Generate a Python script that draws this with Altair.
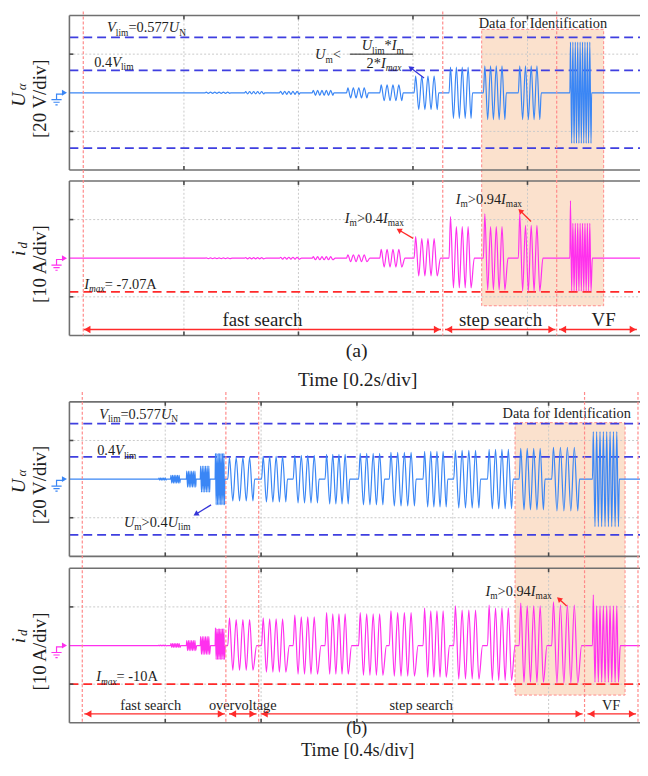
import math
import altair as alt
import pandas as pd

FONT = "Liberation Serif"
TEXT = "#1e1e1e"
BLUE_WAVE = "#3a86f5"
BLUE_DASH = "#3f3fe0"
BLUE_ARROW = "#3535d8"
MAG = "#ff30ee"
RED = "#ff2a2a"
PINK = "#ff8a8a"
BOX_FILL = "#fbe1cd"
GRID = "#c9c9c9"
BORDER = "#707070"

W = 576          # panel width (px)
H = 156          # panel height (px)
PLOT_H = 752     # whole drawing height below the top padding

# panel tops inside the drawing (px)
A_UA_TOP, A_ID_TOP, CAP_TOP, B_UA_TOP, B_ID_TOP = 0, 167, 323, 390, 558

# ---------------- data: part (a), time in s (0.2 s/div) ----------------
A_T_MAX = 0.9965
A_XGRID = [0.2, 0.4, 0.6, 0.8]
A_BURST_START = [0.237, 0.306, 0.367, 0.424, 0.484, 0.542, 0.602, 0.663, 0.723, 0.784, 0.874]
A_BURST_END = [0.282, 0.341, 0.403, 0.462, 0.522, 0.583, 0.645, 0.704, 0.763, 0.824, 0.912]
A_BURST_CYC = [6, 5, 5, 5, 4, 4, 4, 4, 4, 4, 9]
A_UA_AMP = [0.3, 0.6, 0.8, 1.3, 2.6, 4.1, 8.7, 13.3, 13.9, 13.9, 26.2]
A_ID_FIRST = [0.1, 0.15, 0.25, 0.4, 0.9, 2.3, 5.6, 10.8, 11.5, 11.5, 14.9]
A_ID_POS = [0.1, 0.15, 0.25, 0.4, 0.9, 2.3, 5.1, 8.2, 8.2, 8.5, 9.0]
A_ID_NEG = [-0.1, -0.15, -0.25, -0.4, -0.9, -2.3, -4.6, -7.7, -8.2, -8.5, -8.5]
A_UA_LIMITS = [28.7, 11.6, -28.7]
A_IMAX = [-8.7]
A_VLINES = [0.0242, 0.652, 0.851]
A_BOX = [0.720, 0.933]
A_PHASE_START = [0.0242, 0.656, 0.855]
A_PHASE_END = [0.649, 0.849, 0.991]
A_PHASE_TEXT = ["fast search", "step search", "VF"]
A_PHASE_MID = [0.337, 0.753, 0.933]

# ---------------- data: part (b), time in s (0.4 s/div) ----------------
B_T_MAX = 2.3814
B_XGRID = [0.4, 0.8, 1.2, 1.6, 2.0]
B_BURST_START = [0.372, 0.422, 0.488, 0.546, 0.608, 0.661, 0.802, 0.934, 1.067, 1.207,
                 1.335, 1.476, 1.604, 1.745, 1.877, 2.013, 2.183]
B_BURST_END = [0.405, 0.463, 0.529, 0.587, 0.649, 0.773, 0.910, 1.042, 1.170, 1.315,
               1.447, 1.579, 1.716, 1.852, 1.985, 2.129, 2.295]
B_BURST_CYC = [5, 6, 6, 6, 7, 4, 4, 4, 4, 4, 4, 4, 4, 4, 4, 4, 8]
B_UA_AMP = [0.5, 2.0, 4.1, 6.7, 13.3, 11.3, 11.8, 12.3, 12.8, 13.3, 13.9, 14.4, 14.9, 15.4,
            15.9, 16.4, 24.6]
B_ID_FIRST = [0.1, 0.5, 1.3, 2.3, 4.6, 7.2, 7.2, 7.9, 8.5, 8.5, 9.0, 9.7, 10.3, 10.5, 11.0,
              11.3, 13.1]
B_ID_POS = [0.1, 0.5, 1.3, 2.3, 4.3, 6.7, 6.9, 7.4, 8.2, 8.2, 8.5, 9.0, 9.2, 9.7, 10.3,
            10.5, 10.3]
B_ID_NEG = [-0.1, -0.5, -1.3, -2.3, -3.6, -6.4, -6.9, -7.4, -7.4, -7.7, -7.9, -8.2, -8.7,
            -9.0, -9.5, -9.7, -9.5]
B_UA_LIMITS = [28.7, 11.5, -28.9]
B_IMAX = [-10.0]
B_VLINES = [0.0537, 0.653, 0.790, 2.150, 2.373]
B_BOX = [1.860, 2.319]
B_PHASE_START = [0.062, 0.666, 0.798, 2.162]
B_PHASE_END = [0.649, 0.781, 2.142, 2.365]
B_PHASE_TEXT = ["fast search", "overvoltage", "step search", "VF"]
B_PHASE_MID = [0.339, 0.7235, 1.468, 2.261]

UA_YGRID = [-20, 20]
ID_YGRID = [-10, 10]
UA_DOMAIN = [-40, 40]
ID_DOMAIN = [-20, 20]

ONE = pd.DataFrame({"k": [0]})

RW = {' ': 250, '(': 333, ')': 333, '*': 500, '-': 333, '.': 250, '/': 278, '<': 564,
      '=': 564, '>': 564, 'A': 722, 'D': 722, 'F': 556, 'I': 333, 'N': 722, 'T': 611,
      'U': 722, 'V': 722, '[': 333, ']': 333, 'a': 444, 'c': 444, 'd': 500, 'e': 444,
      'f': 333, 'g': 500, 'h': 500, 'i': 278, 'l': 278, 'm': 778, 'n': 500, 'o': 500,
      'p': 500, 'r': 333, 's': 389, 't': 278, 'v': 500, 'x': 500}
IW = {'U': 722, 'V': 611, 'I': 333, 'm': 722, 'a': 500, 'x': 444, 'i': 278, 'l': 278,
      'd': 500, 'N': 667}


def tw(s, size, italic):
    tab = IW if italic else RW
    return sum(tab.get(c, 500) for c in s) / 1000.0 * size


def T(txt, x, y, size=14.5, italic=False, color=TEXT, align="left",
      baseline="alphabetic", angle=None):
    kw = dict(font=FONT, fontSize=size, fontStyle="italic" if italic else "normal",
              align=align, baseline=baseline, color=color)
    if angle is not None:
        kw["angle"] = angle
    return alt.Chart(ONE).mark_text(**kw).encode(
        x=alt.value(x), y=alt.value(y), text=alt.value(txt))


def rich(parts, x0, y0, base=14.5, sub=9.5, sdy=3.5, color=TEXT):
    out = []
    x = x0
    for txt, kind in parts:
        italic = "i" in kind
        is_sub = kind.startswith("s")
        fs = sub if is_sub else base
        out.append(T(txt, x, y0 + (sdy if is_sub else 0), fs, italic, color))
        x += tw(txt, fs, italic)
    return out


def pointer(x1, y1, x2, y2, color, size=38):
    L = math.hypot(x2 - x1, y2 - y1)
    ux, uy = (x2 - x1) / L, (y2 - y1) / L
    cx, cy = x2 - 3 * ux, y2 - 3 * uy
    ang = math.degrees(math.atan2(ux, -uy)) % 360
    line = alt.Chart(ONE).mark_rule(color=color, strokeWidth=1.3).encode(
        x=alt.value(x1), y=alt.value(y1), x2=alt.value(cx), y2=alt.value(cy))
    head = alt.Chart(ONE).mark_point(shape="triangle-up", filled=True, size=size,
                                     angle=ang, color=color, opacity=1).encode(
        x=alt.value(cx), y=alt.value(cy))
    return [line, head]


def ua_series(tmax, st, en, cyc, amp):
    t, v = [0.0], [0.0]
    for s, e, n, a in zip(st, en, cyc, amp):
        P = (e - s) / n
        t.append(s); v.append(0.0)
        for k in range(n):
            t += [s + (k + 0.25) * P, s + (k + 0.75) * P]
            v += [a, -a]
        t.append(e); v.append(0.0)
    t.append(tmax); v.append(0.0)
    return pd.DataFrame({"t": t, "v": v})


def id_series(tmax, st, en, cyc, first, pos, neg):
    t, v = [0.0], [0.0]
    for s, e, n, f, p, q in zip(st, en, cyc, first, pos, neg):
        P = (e - s) / n
        t.append(s); v.append(0.0)
        for k in range(n):
            t += [s + (k + 0.25) * P, s + (k + 0.75) * P]
            v += [f if k == 0 else p, q]
        t.append(e + 0.3 * P); v.append(0.0)
    t.append(tmax); v.append(0.0)
    return pd.DataFrame({"t": t, "v": v})


def xs(tmax):
    return alt.Scale(domain=[0, tmax], range=[0, W], nice=False, zero=False)


def ys(domain, top):
    return alt.Scale(domain=domain, range=[top + H, top], nice=False, zero=False)


def X(field, XS):
    return alt.X(field, type="quantitative", scale=XS, axis=None)


def Y(field, YS):
    return alt.Y(field, type="quantitative", scale=YS, axis=None)


def grid_layers(XS, YS, top, xgrid, ygrid):
    gx = alt.Chart(pd.DataFrame({"g": xgrid})).mark_rule(
        color=GRID, strokeWidth=1, strokeDash=[2, 2]).encode(
        x=X("g", XS), y=alt.value(top), y2=alt.value(top + H))
    gy = alt.Chart(pd.DataFrame({"g": ygrid})).mark_rule(
        color=GRID, strokeWidth=1, strokeDash=[2, 2]).encode(
        y=Y("g", YS), x=alt.value(0), x2=alt.value(W))
    return [gx, gy]


def frame_layers(XS, YS, top, xgrid, ygrid):
    out = []
    rs = dict(color=BORDER, strokeWidth=1.6)
    out.append(alt.Chart(ONE).mark_rule(**rs).encode(
        x=alt.value(0), x2=alt.value(W), y=alt.value(top)))
    out.append(alt.Chart(ONE).mark_rule(**rs).encode(
        x=alt.value(0), x2=alt.value(W), y=alt.value(top + H)))
    out.append(alt.Chart(ONE).mark_rule(**rs).encode(
        x=alt.value(0), y=alt.value(top), y2=alt.value(top + H)))
    ts = dict(color="#4a4a4a", strokeWidth=1.6)
    gdf = pd.DataFrame({"g": xgrid})
    out.append(alt.Chart(gdf).mark_rule(**ts).encode(
        x=X("g", XS), y=alt.value(top), y2=alt.value(top + 4)))
    out.append(alt.Chart(gdf).mark_rule(**ts).encode(
        x=X("g", XS), y=alt.value(top + H - 4), y2=alt.value(top + H)))
    out.append(alt.Chart(pd.DataFrame({"g": ygrid})).mark_rule(**ts).encode(
        y=Y("g", YS), x=alt.value(0), x2=alt.value(4)))
    return out


GROUND = "M1.1,-1 L0,-1 L0,0 M-0.9,0 L0.9,0 M-0.55,0.45 L0.55,0.45 M-0.2,0.9 L0.2,0.9"


def ylabel_layers(top, main, sub, unit, color, u_xy, s_xy):
    return [
        T(unit, -30, top + 84, 19, angle=270, align="center", baseline="middle"),
        T(main, u_xy[0], top + u_xy[1], 20, italic=True, angle=270, align="center",
          baseline="middle"),
        T(sub, s_xy[0], top + s_xy[1], 13, italic=True, angle=270, align="center",
          baseline="middle"),
        alt.Chart(ONE).mark_point(shape="triangle-right", filled=True, size=35, color=color,
                                  opacity=1).encode(x=alt.value(-5), y=alt.value(top + H / 2)),
        alt.Chart(ONE).mark_point(shape=GROUND, filled=False, size=130, color=color,
                                  strokeWidth=1.2, opacity=1).encode(
            x=alt.value(-13), y=alt.value(top + H / 2 + 7)),
    ]


def phase_layers(XS, starts, ends, mids, texts, y_line, y_text, fs, off):
    df = pd.DataFrame({"s": starts, "e": ends})
    line = alt.Chart(df).mark_rule(color=RED, strokeWidth=1.4).encode(
        x=X("s", XS), x2="e:Q", y=alt.value(y_line))
    left = alt.Chart(pd.DataFrame({"h": [s + off for s in starts]})).mark_point(
        shape="triangle-left", filled=True, size=55, color=RED, opacity=1).encode(
        x=X("h", XS), y=alt.value(y_line))
    right = alt.Chart(pd.DataFrame({"h": [e - off for e in ends]})).mark_point(
        shape="triangle-right", filled=True, size=55, color=RED, opacity=1).encode(
        x=X("h", XS), y=alt.value(y_line))
    lab = alt.Chart(pd.DataFrame({"m": mids, "txt": texts})).mark_text(
        font=FONT, fontSize=fs, baseline="alphabetic", align="center", color=TEXT).encode(
        x=X("m", XS), y=alt.value(y_text), text="txt:N")
    return [line, left, right, lab]


def vline_layer(XS, ts, y_top, y_bot):
    return alt.Chart(pd.DataFrame({"t": ts})).mark_rule(
        color=PINK, strokeWidth=1.2, strokeDash=[3, 2]).encode(
        x=X("t", XS), y=alt.value(y_top), y2=alt.value(y_bot))


def box_layer(XS, box, y_top, y_bot):
    return alt.Chart(pd.DataFrame({"a": [box[0]], "b": [box[1]]})).mark_rect(
        fill=BOX_FILL, stroke=PINK, strokeDash=[3, 2], strokeWidth=1).encode(
        x=X("a", XS), x2="b:Q", y=alt.value(y_top), y2=alt.value(y_bot))


def limit_layer(YS, vals, color):
    return alt.Chart(pd.DataFrame({"v": vals})).mark_rule(
        color=color, strokeWidth=1.8, strokeDash=[9, 5]).encode(
        y=Y("v", YS), x=alt.value(0), x2=alt.value(W))


def wave_layer(XS, YS, df, color):
    return alt.Chart(df).mark_line(color=color, strokeWidth=1.2, interpolate="monotone").encode(
        x=X("t", XS), y=Y("v", YS))


VLIM = [("V", "i"), ("lim", "sr"), ("=0.577", "r"), ("U", "i"), ("N", "sr")]
V04 = [("0.4", "r"), ("V", "i"), ("lim", "sr")]
IM094 = [("I", "i"), ("m", "sr"), (">0.94", "r"), ("I", "i"), ("max", "sr")]

XA = xs(A_T_MAX)
XB = xs(B_T_MAX)
YA_UA = ys(UA_DOMAIN, A_UA_TOP)
YA_ID = ys(ID_DOMAIN, A_ID_TOP)
YB_UA = ys(UA_DOMAIN, B_UA_TOP)
YB_ID = ys(ID_DOMAIN, B_ID_TOP)

layers = []

# ----- shaded boxes (bottom-most) -----
layers += [box_layer(XA, A_BOX, A_UA_TOP + 14, A_UA_TOP + 293),
           box_layer(XB, B_BOX, B_UA_TOP + 21, B_UA_TOP + 296)]

# ----- (a) Ua -----
t0 = A_UA_TOP
layers += grid_layers(XA, YA_UA, t0, A_XGRID, UA_YGRID)
layers += [limit_layer(YA_UA, A_UA_LIMITS, BLUE_DASH),
           wave_layer(XA, YA_UA, ua_series(A_T_MAX, A_BURST_START, A_BURST_END, A_BURST_CYC,
                                           A_UA_AMP), BLUE_WAVE)]
layers += frame_layers(XA, YA_UA, t0, A_XGRID, UA_YGRID)
layers += ylabel_layers(t0, "U", "α", "[20 V/div]", BLUE_WAVE, (-51, 85), (-48, 72))
layers += rich(VLIM, 38, t0 + 17) + rich(V04, 25, t0 + 52)
layers += rich([("U", "i"), ("m", "sr"), ("<", "r")], 248, t0 + 44)
layers += rich([("U", "i"), ("lim", "sr"), ("*", "r"), ("I", "i"), ("m", "sr")], 295, t0 + 35)
layers += [alt.Chart(ONE).mark_rule(color=TEXT, strokeWidth=1).encode(
    x=alt.value(283), x2=alt.value(347), y=alt.value(t0 + 39))]
layers += rich([("2*", "r"), ("I", "i"), ("max", "si")], 300, t0 + 53)
layers += pointer(358, t0 + 63, 342, t0 + 51, BLUE_ARROW)
layers += [T("Data for Identification", 478, t0 + 13, 14.5, align="center")]

# ----- (a) id -----
t0 = A_ID_TOP
layers += grid_layers(XA, YA_ID, t0, A_XGRID, ID_YGRID)
layers += [limit_layer(YA_ID, A_IMAX, RED),
           wave_layer(XA, YA_ID, id_series(A_T_MAX, A_BURST_START, A_BURST_END, A_BURST_CYC,
                                           A_ID_FIRST, A_ID_POS, A_ID_NEG), MAG)]
layers += frame_layers(XA, YA_ID, t0, A_XGRID, ID_YGRID)
layers += ylabel_layers(t0, "i", "d", "[10 A/div]", MAG, (-51, 73), (-47, 65))
layers += phase_layers(XA, A_PHASE_START, A_PHASE_END, A_PHASE_MID, A_PHASE_TEXT,
                       t0 + 150, t0 + 146, 19, 4 / 578)
layers += rich([("I", "i"), ("max", "si"), ("= -7.07A", "r")], 15, t0 + 109)
layers += rich([("I", "i"), ("m", "sr"), (">0.4", "r"), ("I", "i"), ("max", "sr")], 278, t0 + 42)
layers += pointer(347, t0 + 58, 330, t0 + 48, RED)
layers += rich(IM094, 390, t0 + 23) + pointer(466, t0 + 41, 453, t0 + 28, RED)
layers += [vline_layer(XA, A_VLINES, -4, A_ID_TOP + H)]

# ----- caption (a) -----
layers += [T("(a)", 290, CAP_TOP + 22, 20, align="center"),
           T("Time [0.2s/div]", 291, CAP_TOP + 51, 19.5, align="center")]

# ----- (b) Ua -----
t0 = B_UA_TOP
layers += grid_layers(XB, YB_UA, t0, B_XGRID, UA_YGRID)
layers += [limit_layer(YB_UA, B_UA_LIMITS, BLUE_DASH),
           wave_layer(XB, YB_UA, ua_series(B_T_MAX, B_BURST_START, B_BURST_END, B_BURST_CYC,
                                           B_UA_AMP), BLUE_WAVE)]
layers += frame_layers(XB, YB_UA, t0, B_XGRID, UA_YGRID)
layers += ylabel_layers(t0, "U", "α", "[20 V/div]", BLUE_WAVE, (-51, 85), (-48, 72))
layers += rich(VLIM, 30, t0 + 17) + rich(V04, 28, t0 + 54)
layers += rich([("U", "i"), ("m", "sr"), (">0.4", "r"), ("U", "i"), ("lim", "sr")], 55, t0 + 126)
layers += pointer(143, t0 + 104, 125, t0 + 115, BLUE_ARROW)
layers += [T("Data for Identification", 502, t0 + 16, 14.5, align="center")]

# ----- (b) id -----
t0 = B_ID_TOP
layers += grid_layers(XB, YB_ID, t0, B_XGRID, ID_YGRID)
layers += [limit_layer(YB_ID, B_IMAX, RED),
           wave_layer(XB, YB_ID, id_series(B_T_MAX, B_BURST_START, B_BURST_END, B_BURST_CYC,
                                           B_ID_FIRST, B_ID_POS, B_ID_NEG), MAG)]
layers += frame_layers(XB, YB_ID, t0, B_XGRID, ID_YGRID)
layers += ylabel_layers(t0, "i", "d", "[10 A/div]", MAG, (-51, 73), (-47, 65))
layers += phase_layers(XB, B_PHASE_START, B_PHASE_END, B_PHASE_MID, B_PHASE_TEXT,
                       t0 + 147, t0 + 143, 14.5, 4 / 241.875)
layers += rich([("I", "i"), ("max", "si"), ("= -10A", "r")], 27, t0 + 114)
layers += rich(IM094, 420, t0 + 28) + pointer(502, t0 + 38, 492, t0 + 29, RED)
layers += [vline_layer(XB, B_VLINES, B_UA_TOP - 10, B_ID_TOP + H)]
layers += [T("(b)", 290, t0 + 167, 18, align="center"),
           T("Time [0.4s/div]", 291, t0 + 190, 18.5, align="center")]

chart = alt.layer(*layers).resolve_scale(x="independent", y="independent").properties(
    width=W, height=PLOT_H,
    autosize=alt.AutoSizeParams(type="none"),
    padding={"left": 62, "top": 4, "right": 0, "bottom": 0},
    background="white",
).configure_view(stroke=None, strokeWidth=0)

chart.save("out.html", embed_options={"renderer": "svg", "actions": False})
